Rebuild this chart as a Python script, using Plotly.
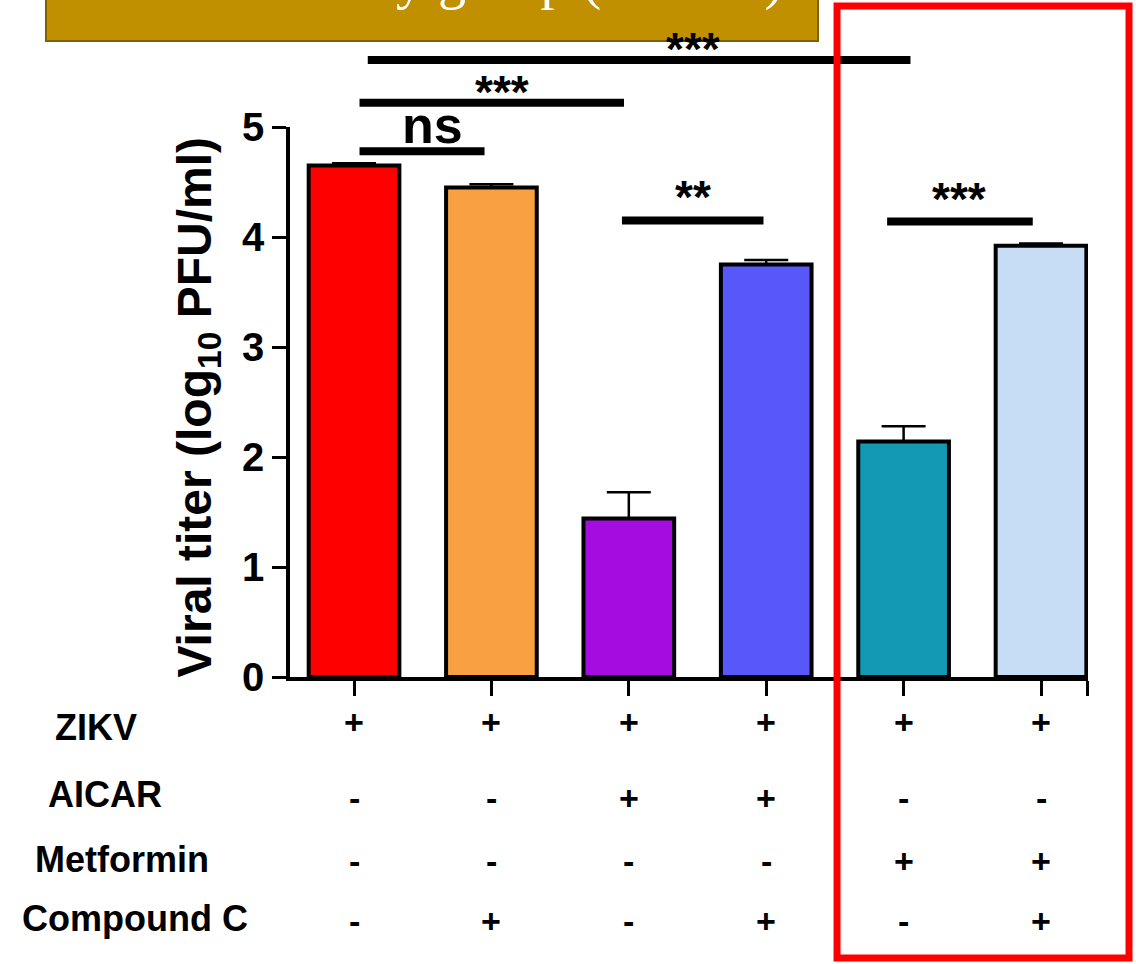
import plotly.graph_objects as go

# ---------------- data ----------------
groups = ["G1", "G2", "G3", "G4", "G5", "G6"]
titer = [4.65, 4.45, 1.44, 3.75, 2.14, 3.92]
titer_err = [0.02, 0.03, 0.24, 0.04, 0.14, 0.02]
bar_colors = ["#FF0000", "#F9A043", "#A50CE0", "#5757FA", "#1399B3", "#C7DCF5"]

row_labels = ["ZIKV", "AICAR", "Metformin", "Compound C"]
zikv = ["+", "+", "+", "+", "+", "+"]
aicar = ["-", "-", "+", "+", "-", "-"]
metformin = ["-", "-", "-", "-", "+", "+"]
compound_c = ["-", "+", "-", "+", "-", "+"]
table_rows = [zikv, aicar, metformin, compound_c]

# significance comparisons
sig_x0 = [0.04, 0.04, 0.10, 1.95, 3.88]
sig_x1 = [0.95, 1.965, 4.05, 2.98, 4.94]
sig_y = [4.78, 5.22, 5.61, 4.15, 4.14]
sig_text = ["ns", "***", "***", "**", "***"]
sig_text_x = [0.57, 1.08, 2.47, 2.47, 4.40]
sig_text_y = [5.02, 5.32, 5.71, 4.36, 4.35]

y_tick_vals = [0, 1, 2, 3, 4, 5]
y_title = "Viral titer (log<sub>10</sub> PFU/ml)"

FONT = "Liberation Sans, Arial, sans-serif"
Y_MAX = 5.0
X_RANGE = [-0.466, 5.342]

fig = go.Figure()
fig.add_trace(go.Bar(
    x=list(range(len(groups))),
    y=titer,
    width=0.66,
    marker=dict(color=bar_colors, line=dict(color="black", width=4)),
    error_y=dict(type="data", array=titer_err, arrayminus=[0] * len(titer_err),
                 symmetric=False, color="black", thickness=2.5, width=22),
    showlegend=False,
    hoverinfo="skip",
))

shapes = []
annotations = []

# significance bars (paper y so that they can sit above the axis range)
for x0, x1, yv in zip(sig_x0, sig_x1, sig_y):
    shapes.append(dict(type="line", xref="x", yref="paper",
                       x0=x0, x1=x1, y0=yv / Y_MAX, y1=yv / Y_MAX,
                       line=dict(color="black", width=8)))
for tx, ty, t in zip(sig_text_x, sig_text_y, sig_text):
    size = 52 if t == "ns" else 46
    annotations.append(dict(x=tx, y=ty / Y_MAX, xref="x", yref="paper", text=t, showarrow=False,
                            xanchor="center", yanchor="middle",
                            font=dict(family=FONT, size=size, color="black", weight="bold")))

# y-axis title
annotations.append(dict(x=-0.1165, y=0.49, xref="paper", yref="paper", text=y_title,
                        textangle=-90, showarrow=False, xanchor="center", yanchor="middle",
                        font=dict(family=FONT, size=48, color="black", weight="bold")))

# treatment table
label_x = [-0.2431, -0.2318, -0.2105, -0.1942]
label_y = [-0.0927, -0.2145, -0.3327, -0.4382]
sym_y = [-0.0818, -0.2200, -0.3345, -0.4436]
for lab, lx, ly in zip(row_labels, label_x, label_y):
    annotations.append(dict(x=lx, y=ly, xref="paper", yref="paper", text=lab, showarrow=False,
                            xanchor="center", yanchor="middle",
                            font=dict(family=FONT, size=36, color="black", weight="bold")))
for row, sy in zip(table_rows, sym_y):
    for i, s in enumerate(row):
        annotations.append(dict(x=i, y=sy, xref="x", yref="paper", text=s, showarrow=False,
                                xanchor="center", yanchor="middle",
                                font=dict(family=FONT, size=34, color="black", weight="bold")))

# gold title banner (cut off at top of the image)
shapes.append(dict(type="rect", xref="paper", yref="paper", x0=-0.3058, x1=0.6617,
                   y0=1.1564, y1=1.26, fillcolor="#C09000",
                   line=dict(color="#7F6000", width=2), layer="below"))
annotations.append(dict(x=0.6203, y=1.2073, xref="paper", yref="paper",
                        text="Viral titer by group (in vitro)", showarrow=False,
                        xanchor="right", yanchor="bottom",
                        font=dict(family="Liberation Serif, serif", size=56, color="white")))

# red highlight box
shapes.append(dict(type="rect", xref="paper", yref="paper", x0=0.6855, x1=1.0514,
                   y0=-0.511, y1=1.22, line=dict(color="#FF0000", width=7),
                   fillcolor="rgba(0,0,0,0)"))

fig.update_layout(
    width=1136, height=964,
    margin=dict(l=290, r=48, t=127, b=287),
    paper_bgcolor="white", plot_bgcolor="white",
    shapes=shapes, annotations=annotations,
    bargap=0.3,
    xaxis=dict(range=X_RANGE, showgrid=False, zeroline=False, showline=True,
               linecolor="black", linewidth=3.5, ticks="outside", ticklen=15,
               tickwidth=3, tickcolor="black", tickvals=[0, 1, 2, 3, 4, 5, 5.335],
               showticklabels=False),
    yaxis=dict(range=[0, Y_MAX], showgrid=False, zeroline=False, showline=True,
               linecolor="black", linewidth=3.5, ticks="outside", ticklen=14,
               tickwidth=3, tickcolor="black", tickvals=y_tick_vals,
               tickfont=dict(family=FONT, size=40, color="black", weight="bold")),
)

fig.write_html("out.html", config={"displayModeBar": False},
               post_script="document.body.style.margin='0px';document.body.style.overflow='hidden';")
